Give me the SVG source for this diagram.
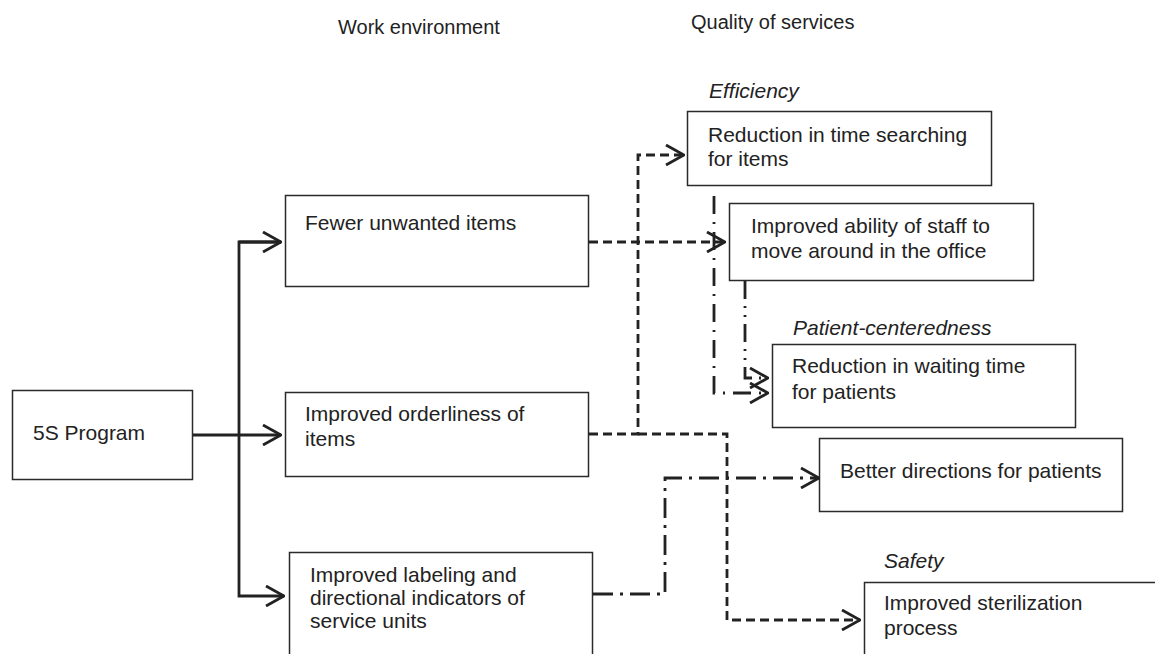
<svg xmlns="http://www.w3.org/2000/svg" width="1155" height="654" viewBox="0 0 1155 654">
<style>
.box{fill:#fff;stroke:#2a2a2a;stroke-width:1.5}
.t{font-family:"Liberation Sans",Arial,sans-serif;font-size:21px;fill:#222}
.h{font-family:"Liberation Sans",Arial,sans-serif;font-size:20px;fill:#222}
.i{font-family:"Liberation Sans",Arial,sans-serif;font-size:21px;font-style:italic;fill:#222}
.c{fill:none;stroke:#222;stroke-width:2.8}
.dash{stroke-dasharray:9 5}
.dd{stroke-dasharray:20 7 3 7}
.d1{stroke-dasharray:18 8 2 8}
.d2{stroke-dasharray:18 7 2 7 2 7}
.ah{fill:none;stroke:#222;stroke-width:2.8;stroke-dasharray:none}
</style>
<defs>
<marker id="arr" viewBox="0 0 20 22" refX="19" refY="11" markerWidth="20" markerHeight="22" markerUnits="userSpaceOnUse" orient="auto">
<path class="ah" d="M1,1 L19,11 L1,21"/>
</marker>
</defs>
<text class="h" x="338" y="34">Work environment</text>
<text class="h" x="691" y="29">Quality of services</text>
<text class="i" x="709" y="98">Efficiency</text>
<text class="i" x="793" y="335">Patient-centeredness</text>
<text class="i" x="884" y="568">Safety</text>

<g id="n5s"><rect class="box" x="12.5" y="390.5" width="180" height="89"/><text class="t" x="33" y="440">5S Program</text></g>
<g id="nfewer"><rect class="box" x="285.5" y="195.5" width="303" height="91"/><text class="t" x="305" y="230">Fewer unwanted items</text></g>
<g id="norder"><rect class="box" x="285.5" y="392.5" width="303" height="84"/><text class="t" x="305" y="421">Improved orderliness of</text><text class="t" x="305" y="446">items</text></g>
<g id="nlabel"><rect class="box" x="289.5" y="552.5" width="303" height="110"/><text class="t" x="310" y="582">Improved labeling and</text><text class="t" x="310" y="605">directional indicators of</text><text class="t" x="310" y="628">service units</text></g>
<g id="nsearch"><rect class="box" x="687.5" y="111.5" width="304" height="74"/><text class="t" x="708" y="142">Reduction in time searching</text><text class="t" x="708" y="166">for items</text></g>
<g id="nmove"><rect class="box" x="729.5" y="203.5" width="304" height="77"/><text class="t" x="751" y="233">Improved ability of staff to</text><text class="t" x="751" y="258">move around in the office</text></g>
<g id="nwait"><rect class="box" x="772.5" y="344.5" width="303" height="83"/><text class="t" x="792" y="373">Reduction in waiting time</text><text class="t" x="792" y="399">for patients</text></g>
<g id="ndir"><rect class="box" x="819.5" y="438.5" width="303" height="73"/><text class="t" x="840" y="478">Better directions for patients</text></g>
<g id="nster"><rect class="box" x="864.5" y="582.5" width="300" height="80"/><text class="t" x="884" y="610">Improved sterilization</text><text class="t" x="884" y="635">process</text></g>

<g id="connectors">
<path class="c" d="M193,435 H281" marker-end="url(#arr)"/>
<path class="c" d="M281,242 H239 V596 H284" marker-end="url(#arr)"/>
<path class="c" d="M239,242 H281" marker-end="url(#arr)"/>
<path class="c dash" d="M589,242 H725" marker-end="url(#arr)"/>
<path class="c dash" d="M589,434 H638 V155 H684" marker-end="url(#arr)"/>
<path class="c dash" d="M638,434 H727 V620 H860" marker-end="url(#arr)"/>
<path class="c dd" d="M593,594 H665 V478 H819" marker-end="url(#arr)"/>
<path class="c d1" d="M714,196 V393 H768" marker-end="url(#arr)"/>
<path class="c d2" d="M745,281 V378 H768" marker-end="url(#arr)"/>
</g>
</svg>
